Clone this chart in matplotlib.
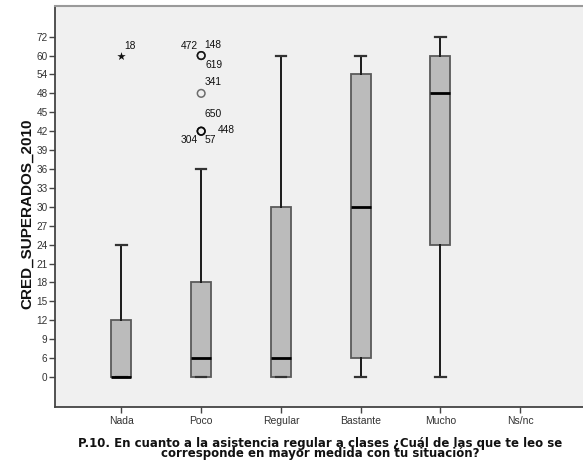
import numpy as np
import matplotlib
matplotlib.use("Agg")
import matplotlib.pyplot as plt

# ---------------- data ----------------
categories = ["Nada", "Poco", "Regular", "Bastante", "Mucho", "Ns/nc"]
whis_lo = [0, 0, 0, 0, 0, None]
q1      = [0, 0, 0, 6, 24, None]
median  = [0, 6, 6, 30, 48, None]
q3      = [12, 18, 30, 54, 60, None]
whis_hi = [24, 36, 60, 60, 72, None]

# y-axis tick values (SPSS ordinal axis: equally spaced labels)
ytick_vals = [0, 6, 9, 12, 15, 18, 21, 24, 27, 30, 33, 36, 39, 42, 45, 48, 54, 60, 72]

# outliers (category index, value, case id)
extreme_cat = [0]
extreme_val = [60]
extreme_id = ["18"]

outlier_cat = [1, 1, 1, 1, 1, 1, 1, 1]
outlier_val = [60, 60, 60, 48, 42, 42, 42, 42]
outlier_id = ["472", "148", "619", "341", "650", "448", "304", "57"]
# label offsets in pixels (dx, dy up) and alignment
outlier_off = [(-3, 9.5, "right"), (3, 11, "left"), (4, -9.4, "left"),
               (3, 11, "left"), (3, 17, "left"), (17, 1, "left"),
               (-3, -9, "right"), (3, -9, "left")]

# ---------------- scale ----------------
vals = np.array(ytick_vals, float)
pos = np.arange(len(vals), dtype=float)
s0 = vals[1] - vals[0]
s1 = vals[-1] - vals[-2]


def fwd(v):
    v = np.asarray(v, float)
    return np.where(v < vals[0], (v - vals[0]) / s0,
                    np.where(v > vals[-1], pos[-1] + (v - vals[-1]) / s1,
                             np.interp(v, vals, pos)))


def inv(p):
    p = np.asarray(p, float)
    return np.where(p < 0, vals[0] + p * s0,
                    np.where(p > pos[-1], vals[-1] + (p - pos[-1]) * s1,
                             np.interp(p, pos, vals)))


plt.rcParams['font.family'] = ['Liberation Sans', 'DejaVu Sans']

W, H = 583, 466
fig = plt.figure(figsize=(W / 100, H / 100), dpi=100)
ax_l, ax_r, ax_t, ax_b = 54.5, 587, 6, 406.7
ax = fig.add_axes([ax_l / W, (H - ax_b) / H, (ax_r - ax_l) / W, (ax_b - ax_t) / H])
ax.set_facecolor("#F0F0F0")
ax.set_yscale("function", functions=(fwd, inv))

stats = []
positions = []
for i, c in enumerate(categories):
    if median[i] is None:
        continue
    stats.append(dict(med=median[i], q1=q1[i], q3=q3[i],
                      whislo=whis_lo[i], whishi=whis_hi[i], fliers=[]))
    positions.append(i)

ax.bxp(stats, positions=positions, widths=0.25, patch_artist=True,
       showfliers=False,
       boxprops=dict(facecolor="#BBBBBB", edgecolor="#5A5A5A", linewidth=1.3),
       medianprops=dict(color="#000000", linewidth=2.0),
       whiskerprops=dict(color="#1A1A1A", linewidth=1.4),
       capprops=dict(color="#333333", linewidth=1.6),
       capwidths=0.13)

# outliers
ax.scatter(outlier_cat, outlier_val, s=30, facecolors="none",
           edgecolors=(0, 0, 0, 0.55), linewidths=1.1, zorder=4)
ax.scatter(extreme_cat, extreme_val, s=40, marker="*", color="#111111",
           linewidths=0, zorder=4)

pt2px = 100 / 72
for c, v, t in zip(extreme_cat, extreme_val, extreme_id):
    ax.annotate(t, (c, v), xytext=(3 / pt2px, 9.3 / pt2px), textcoords="offset points",
                ha="left", va="center", fontsize=7.4, color="#111111")
for c, v, t, (dx, dy, ha) in zip(outlier_cat, outlier_val, outlier_id, outlier_off):
    ax.annotate(t, (c, v), xytext=(dx / pt2px, dy / pt2px), textcoords="offset points",
                ha=ha, va="center", fontsize=7.4, color="#111111")

# axes limits / ticks
ax.set_xlim(-0.84, len(categories) - 1 + 0.84)
ax.set_ylim(float(inv(-1.57)), float(inv(19.62)))
ax.set_xticks(range(len(categories)))
ax.set_xticklabels(categories, fontsize=7.5, color="#333333")
ax.set_yticks(ytick_vals)
ax.set_yticklabels([str(v) for v in ytick_vals], fontsize=7.2, color="#333333")
ax.yaxis.set_minor_locator(matplotlib.ticker.NullLocator())
ax.tick_params(axis="both", direction="out", length=4.2, width=1.0, color="#444444", pad=0.8)
ax.tick_params(axis="x", pad=2.5)

for s in ["left", "bottom"]:
    ax.spines[s].set_color("#444444")
    ax.spines[s].set_linewidth(1.3)
ax.spines["top"].set_color("#9A9A9A")
ax.spines["top"].set_linewidth(1.5)
ax.spines["right"].set_visible(False)

ax.set_ylabel("CRED_SUPERADOS_2010", fontsize=11, fontweight="bold", color="#111111")
ax.yaxis.set_label_coords((34.5 - ax_l) / (ax_r - ax_l), (ax_b - 214) / (ax_b - ax_t))

ax.set_xlabel("P.10. En cuanto a la asistencia regular a clases ¿Cuál de las que te leo se\n"
              "corresponde en mayor medida con tu situación?",
              fontsize=8.5, fontweight="bold", color="#111111", linespacing=0.72,
              family=["DejaVu Sans"])
ax.xaxis.set_label_coords((320 - ax_l) / (ax_r - ax_l), (ax_b - 437) / (ax_b - ax_t))

fig.savefig("out.png", dpi=100)
